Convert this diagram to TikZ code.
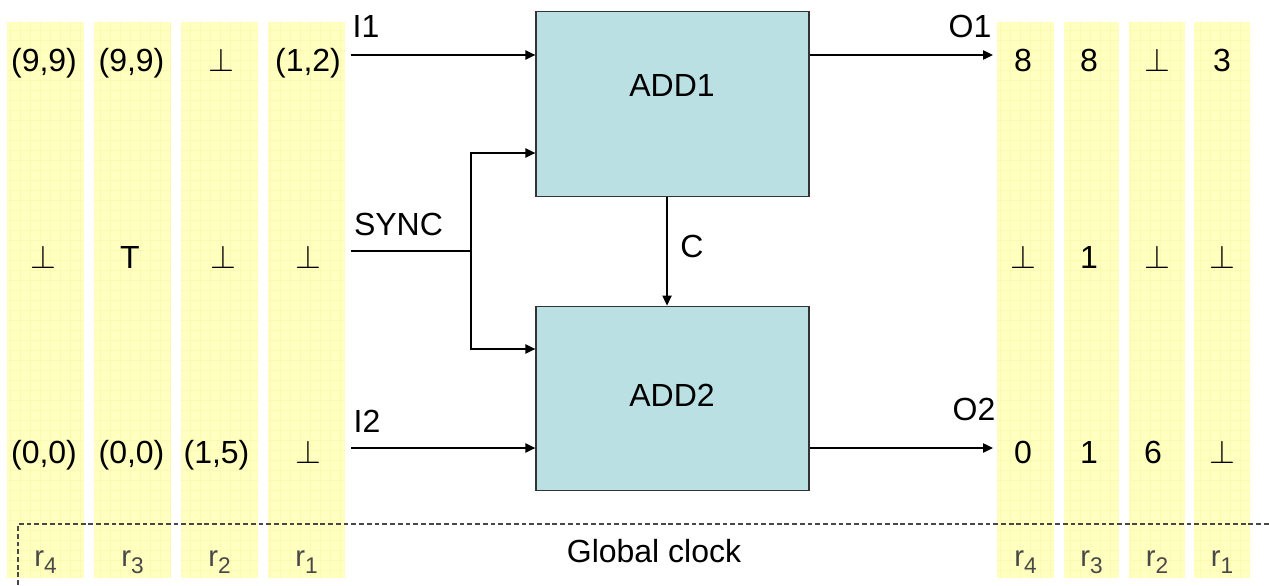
\documentclass[tikz,border=0pt]{standalone}
\usepackage{fontspec}
\setmainfont{Liberation Sans}
\usetikzlibrary{arrows.meta}
\definecolor{colfill}{RGB}{255,255,192}
\definecolor{colgrid}{RGB}{252,249,178}
\definecolor{boxfill}{RGB}{186,224,227}
\definecolor{boxdraw}{RGB}{51,51,51}
\definecolor{rgray}{RGB}{72,72,72}
\begin{document}
\begin{tikzpicture}[x=0.75pt,y=-0.75pt,
  every node/.style={font=\fontsize{24}{28}\selectfont, inner sep=0pt},
  val/.style={anchor=base},
  conn/.style={line width=1pt, -{Triangle[length=7.5pt,width=7pt]}},
  wire/.style={line width=1pt},
  block/.style={draw=boxdraw, fill=boxfill, line width=1pt, minimum width=204.75pt, minimum height=138.4pt},
  rlab/.style={anchor=base, text=rgray, font=\fontsize{22}{26}\selectfont},
  clk/.style={draw=rgray, line width=1pt, dash pattern=on 3.6pt off 2.2pt}]
\useasboundingbox (0,0) rectangle (1269,585);
% register columns
\foreach \xa/\xb in {7/84, 94/171, 181/258, 268/345, 997/1054, 1064/1119, 1129/1185, 1194/1250} {
  \fill[colfill] (\xa,22) rectangle (\xb,578);
  \begin{scope}
    \clip (\xa,22) rectangle (\xb,578);
    \draw[colgrid, line width=0.35pt, step=7.5pt] (\xa,22) grid (\xb,578);
  \end{scope}
}
% blocks
\node[block] (add1) at (672.5,104) {};
\node[block] (add2) at (672.5,398.5) {};
\node[val] (add1t) at (672,96) {ADD1};
\node[val] (add2t) at (672,406) {ADD2};
% left register values
\node[val] (l11) at (44,72) {(9,9)};
\node[val] (l12) at (131.5,72) {(9,9)};
\node[val] (l13) at (221,72) {$\perp$};
\node[val] (l14) at (308,72) {(1,2)};
\node[val] (l21) at (43,268) {$\perp$};
\node[val] (l22) at (130,268) {T};
\node[val] (l23) at (223,268) {$\perp$};
\node[val] (l24) at (308,268) {$\perp$};
\node[val] (l31) at (44,463) {(0,0)};
\node[val] (l32) at (131.5,463) {(0,0)};
\node[val] (l33) at (216.5,463) {(1,5)};
\node[val] (l34) at (308,463) {$\perp$};
% right register values
\node[val] (r11) at (1023,72) {8};
\node[val] (r12) at (1089,72) {8};
\node[val] (r13) at (1157,72) {$\perp$};
\node[val] (r14) at (1222,72) {3};
\node[val] (r21) at (1023,268) {$\perp$};
\node[val] (r22) at (1089,268) {1};
\node[val] (r23) at (1157,268) {$\perp$};
\node[val] (r24) at (1222,268) {$\perp$};
\node[val] (r31) at (1023,463) {0};
\node[val] (r32) at (1089,463) {1};
\node[val] (r33) at (1153,463) {6};
\node[val] (r34) at (1222,463) {$\perp$};
% register names
\node[rlab] (nl1) at (45.5,566) {r\raisebox{-5.5pt}{\fontsize{17}{17}\selectfont 4}};
\node[rlab] (nl2) at (132.5,566) {r\raisebox{-5.5pt}{\fontsize{17}{17}\selectfont 3}};
\node[rlab] (nl3) at (219.5,566) {r\raisebox{-5.5pt}{\fontsize{17}{17}\selectfont 2}};
\node[rlab] (nl4) at (306.5,566) {r\raisebox{-5.5pt}{\fontsize{17}{17}\selectfont 1}};
\node[rlab] (nr1) at (1025.5,566) {r\raisebox{-5.5pt}{\fontsize{17}{17}\selectfont 4}};
\node[rlab] (nr2) at (1091.5,566) {r\raisebox{-5.5pt}{\fontsize{17}{17}\selectfont 3}};
\node[rlab] (nr3) at (1157,566) {r\raisebox{-5.5pt}{\fontsize{17}{17}\selectfont 2}};
\node[rlab] (nr4) at (1222,566) {r\raisebox{-5.5pt}{\fontsize{17}{17}\selectfont 1}};
% signal labels
\node[val] (li1) at (366,38) {I1};
\node[val] (lsync) at (398.5,235) {SYNC};
\node[val] (li2) at (367,432) {I2};
\node[val] (lo1) at (970,38) {O1};
\node[val] (lo2) at (974,420) {O2};
\node[val] (lc) at (692,257) {C};
\node[val] (lclk) at (654,562) {Global clock};
% connectors
\coordinate (i1s) at (351,55);
\draw[conn] (i1s) -- (i1s -| add1.west);
\coordinate (i2s) at (351,448);
\draw[conn] (i2s) -- (i2s -| add2.west);
\coordinate (syncs) at (351,251);
\coordinate (junc) at (471,251);
\draw[wire] (syncs) -- (junc);
\coordinate (s1) at (471,153);
\coordinate (s2) at (471,349);
\draw[conn] (junc) -- (s1) -- (s1 -| add1.west);
\draw[conn] (junc) -- (s2) -- (s2 -| add2.west);
\draw[conn] ([xshift=-4.1pt]add1.south) -- ([xshift=-4.1pt]add2.north);
\coordinate (o1e) at (993,55);
\draw[conn] (add1.east |- o1e) -- (o1e);
\coordinate (o2e) at (993,448);
\draw[conn] (add2.east |- o2e) -- (o2e);
% global clock
\coordinate (clka) at (18,585);
\coordinate (clkb) at (18,524);
\coordinate (clkc) at (1269,524);
\draw[clk] (clka) -- (clkb) -- (clkc);
\end{tikzpicture}
\end{document}
